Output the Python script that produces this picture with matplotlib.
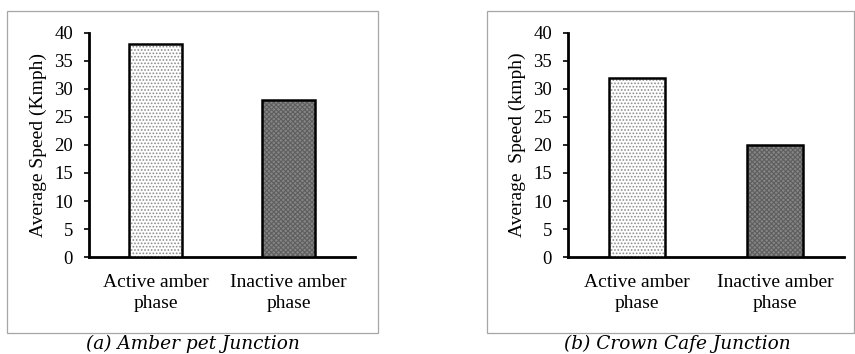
import matplotlib
matplotlib.use("Agg")
import matplotlib.pyplot as plt
from matplotlib.patches import Rectangle

# data
phases = ["Active amber\nphase", "Inactive amber\nphase"]
speed_amberpet = [38, 28]
speed_crowncafe = [32, 20]
ylabels = ["Average Speed (Kmph)", "Average  Speed (kmph)"]
captions = ["(a) Amber pet Junction", "(b) Crown Cafe Junction"]
yticks = [0, 5, 10, 15, 20, 25, 30, 35, 40]

plt.rcParams['font.family'] = ['Liberation Serif', 'DejaVu Serif']
plt.rcParams['hatch.linewidth'] = 0.8

fig = plt.figure(figsize=(8.55, 3.54), dpi=100)

# grey frames around each chart
for x0, w in [(0.0082, 0.4339), (0.5696, 0.4292)]:
    fig.patches.append(Rectangle((x0, 0.0593), w, 0.9096, transform=fig.transFigure,
                                 fill=False, edgecolor='#a6a6a6', linewidth=0.9))

axes_pos = [[0.1041, 0.2740, 0.3111, 0.6328], [0.6643, 0.2740, 0.3228, 0.6328]]
caption_x = [0.2257, 0.7924]
faces = ['white', '#858585']
hatches = ['.....', 'xxxxxxx']
hatch_cols = ['#8c8c8c', '#5e5e5e']

for pos, vals, ylab, cap, cx in zip(axes_pos, [speed_amberpet, speed_crowncafe],
                                    ylabels, captions, caption_x):
    ax = fig.add_axes(pos)
    xs = list(range(len(phases)))
    # fill + pattern, then the black outline on top
    ax.bar(xs, vals, width=0.4, color=faces, hatch=hatches, edgecolor=hatch_cols,
           linewidth=0, zorder=3)
    ax.bar(xs, vals, width=0.4, fill=False, edgecolor='black', linewidth=1.8, zorder=4)
    ax.set_xlim(-0.5, 1.5)
    ax.set_ylim(0, 40)
    ax.set_yticks(yticks)
    ax.set_xticks(xs)
    ax.set_xticklabels(phases, fontsize=14, linespacing=1.3)
    ax.tick_params(axis='x', length=0, pad=12)
    ax.tick_params(axis='y', length=3.5, width=1.2, labelsize=13.5, pad=8)
    for s in ['top', 'right']:
        ax.spines[s].set_visible(False)
    for s in ['left', 'bottom']:
        ax.spines[s].set_linewidth(2)
    ax.set_ylabel(ylab, fontsize=14, labelpad=5)
    fig.text(cx, 0.028, cap, ha='center', va='center', fontsize=13.3,
             style='italic', family=['DejaVu Serif'])

fig.savefig("out.png", dpi=100)
